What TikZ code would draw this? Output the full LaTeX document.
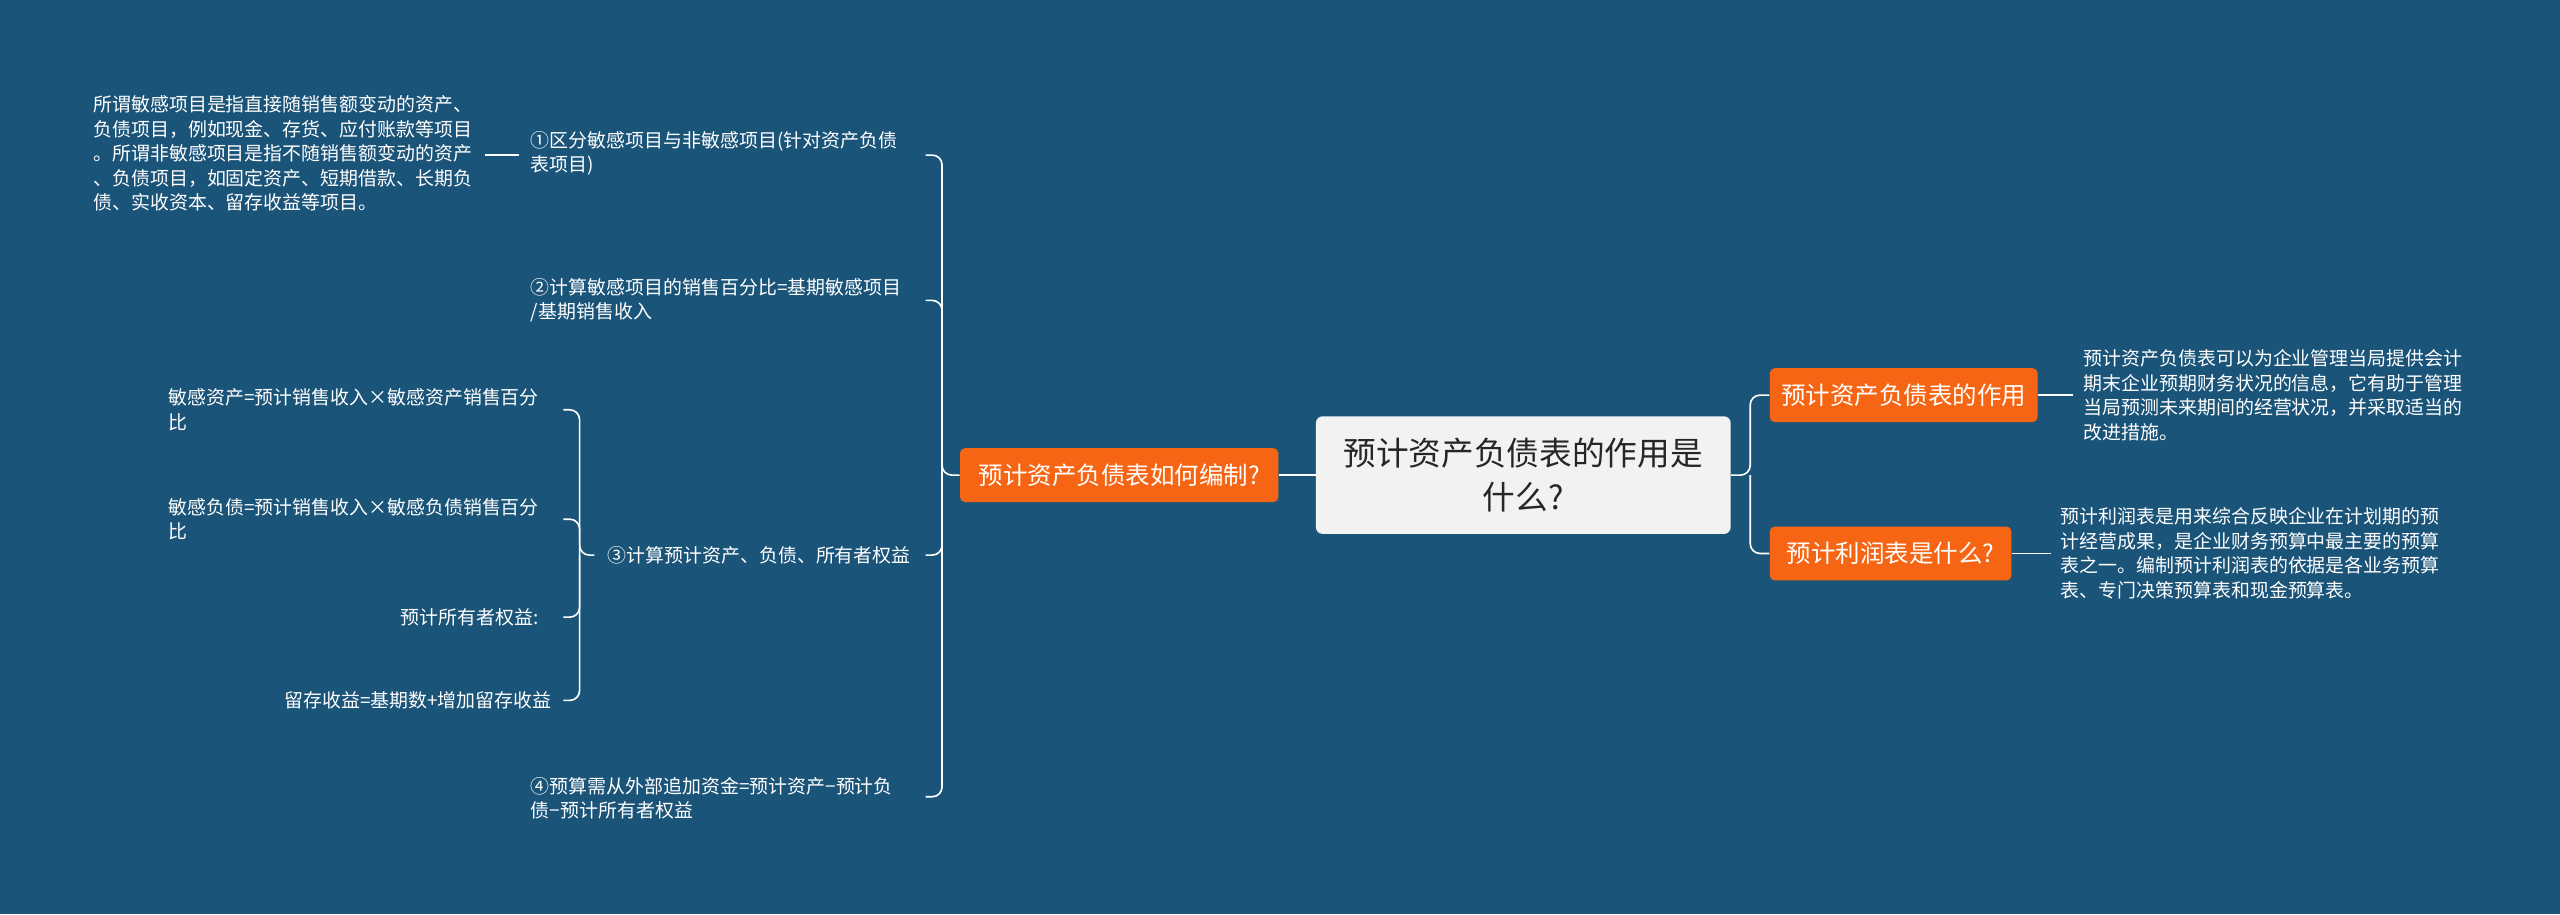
\documentclass[tikz,border=0pt]{standalone}
\usepackage{fontspec}
\newfontfamily\cjk{Noto Sans CJK SC}
\definecolor{bg}{RGB}{27,84,121}
\definecolor{org}{RGB}{246,101,20}
\definecolor{ctr}{RGB}{242,242,242}
\begin{document}
\begin{tikzpicture}[x=1pt,y=-1pt,
 leaf/.style={text=white,font=\cjk\fontsize{11.6}{15}\selectfont,inner sep=0pt,align=left},
 obox/.style={fill=org,rounded corners=3pt,text=white,font=\cjk\fontsize{15}{18}\selectfont,inner sep=0pt,minimum height=33pt},
 ln/.style={draw=white,line width=1pt,rounded corners=6pt}]
\fill[bg] (0,0) rectangle (1568,560);
\useasboundingbox (0,0) rectangle (1568,560);
\node[fill=ctr,rounded corners=4pt,minimum width=254pt,minimum height=72pt,align=center,font=\cjk\fontsize{20}{27}\selectfont,text=black!85] (c) at (933,291) {预计资产负债表的作用是\\什么?};
\node[obox,minimum width=195pt] (m) at (685.5,291) {预计资产负债表如何编制?};
\node[obox,minimum width=164pt] (r1) at (1166,242) {预计资产负债表的作用};
\node[obox,minimum width=148pt] (r2) at (1158,339) {预计利润表是什么?};
\node[leaf,anchor=west] (t1) at (1276,242) {预计资产负债表可以为企业管理当局提供会计\\期末企业预期财务状况的信息，它有助于管理\\当局预测未来期间的经营状况，并采取适当的\\改进措施。};
\node[leaf,anchor=west] (t2) at (1262,339) {预计利润表是用来综合反映企业在计划期的预\\计经营成果，是企业财务预算中最主要的预算\\表之一。编制预计利润表的依据是各业务预算\\表、专门决策预算表和现金预算表。};
\draw[ln] (c.west) -- (m.east);
\draw[ln] (c.east) -- (1072,291) |- (r1.west);
\draw[ln] (1072,291) |- (r2.west);
\draw[ln] (r1.east) -- (1270,242);
\draw[ln] (r2.east) -- (1256,339);
% left
\node[leaf,anchor=west] (a1) at (325,94) {①区分敏感项目与非敏感项目(针对资产负债\\表项目)};
\node[leaf,anchor=west] (a2) at (325,184) {②计算敏感项目的销售百分比=基期敏感项目\\/基期销售收入};
\node[leaf,anchor=west] (a3) at (372,340) {③计算预计资产、负债、所有者权益};
\node[leaf,anchor=west] (a4) at (325,489) {④预算需从外部追加资金=预计资产−预计负\\债−预计所有者权益};
\draw[ln] (m.west) -- (577,291) |- (567,95);
\draw[ln] (577,291) |- (567,184);
\draw[ln] (577,291) |- (567,340);
\draw[ln] (577,291) |- (567,488);
\node[leaf,anchor=west] (l1) at (57,94) {所谓敏感项目是指直接随销售额变动的资产、\\负债项目，例如现金、存货、应付账款等项目\\。所谓非敏感项目是指不随销售额变动的资产\\、负债项目，如固定资产、短期借款、长期负\\债、实收资本、留存收益等项目。};
\draw[ln] (318,95) -- (297,95);
\node[leaf,anchor=west] (b1) at (103,251) {敏感资产=预计销售收入×敏感资产销售百分\\比};
\node[leaf,anchor=west] (b2) at (103,318) {敏感负债=预计销售收入×敏感负债销售百分\\比};
\node[leaf,anchor=east] (b3) at (330,378) {预计所有者权益:};
\node[leaf,anchor=east] (b4) at (338,429) {留存收益=基期数+增加留存收益};
\draw[ln] (364,340) -- (355,340) |- (345,251);
\draw[ln] (355,340) |- (345,318);
\draw[ln] (355,340) |- (345,378);
\draw[ln] (355,340) |- (345,429);
\end{tikzpicture}
\end{document}
